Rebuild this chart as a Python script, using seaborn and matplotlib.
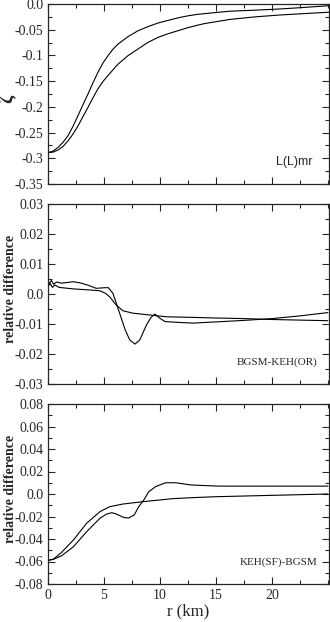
import numpy as np
import pandas as pd
import seaborn as sns
import matplotlib
matplotlib.use("Agg")
import matplotlib.pyplot as plt
from matplotlib.ticker import MultipleLocator, FixedLocator, FixedFormatter

# ---- data ----
# panel 1: zeta(r) for two models
r_top_a = [0, 0.45, 0.89, 1.34, 1.79, 2.23, 2.68, 3.12, 3.57, 4.0, 4.46, 4.9, 5.36, 5.8, 6.25, 7.14, 8.04, 8.93, 9.82, 10.7, 11.6, 12.5, 13.4, 14.8, 16.25, 18.5, 20.7, 23.0, 25.1]
z_top_a = [-0.289, -0.286, -0.279, -0.269, -0.256, -0.238, -0.217, -0.196, -0.175, -0.154, -0.133, -0.115, -0.1005, -0.088, -0.078, -0.0636, -0.052, -0.044, -0.037, -0.032, -0.027, -0.023, -0.020, -0.017, -0.014, -0.012, -0.0097, -0.0065, -0.0033]
r_top_b = [0, 0.45, 0.89, 1.34, 1.79, 2.23, 2.68, 3.12, 3.57, 4.0, 4.46, 4.9, 5.36, 6.25, 7.14, 8.04, 8.93, 9.82, 10.7, 11.6, 12.5, 13.4, 14.0, 16.25, 18.5, 20.7, 23.0, 25.1]
z_top_b = [-0.289, -0.288, -0.284, -0.277, -0.266, -0.253, -0.237, -0.219, -0.201, -0.183, -0.165, -0.151, -0.139, -0.117, -0.1005, -0.0875, -0.0746, -0.065, -0.058, -0.052, -0.046, -0.041, -0.038, -0.030, -0.025, -0.0214, -0.0185, -0.016]

# panel 2: BGSM-KEH(OR)
r_mid_a = [0, 0.2, 0.4, 0.6, 1.0, 2.26, 3.9, 4.6, 5.1, 5.5, 6.1, 6.7, 7.6, 9.1, 10.6, 13.0, 15.0, 17.5, 20.0, 22.5, 25.0]
d_mid_a = [0.0024, 0.0035, 0.0022, 0.0030, 0.0022, 0.0017, 0.0013, 0.0011, 0.0003, -0.0009, -0.0037, -0.0056, -0.0064, -0.0070, -0.0076, -0.0078, -0.0080, -0.0082, -0.0085, -0.0087, -0.0089]
r_mid_b = [0, 0.3, 0.5, 0.8, 1.2, 2.26, 3.0, 3.75, 4.3, 5.1, 5.4, 5.8, 6.3, 6.9, 7.3, 7.77, 8.2, 8.8, 9.2, 9.55, 10.0, 10.45, 11.8, 13.0, 15.0, 17.5, 20.0, 22.5, 25.0]
d_mid_b = [0.0030, 0.0045, 0.0033, 0.0040, 0.0036, 0.0041, 0.0036, 0.0027, 0.0019, 0.0021, 0.0021, 0.0002, -0.0053, -0.0120, -0.0153, -0.0167, -0.0153, -0.0103, -0.0078, -0.0067, -0.0081, -0.0092, -0.0095, -0.0097, -0.0093, -0.0088, -0.0082, -0.0073, -0.0062]

# panel 3: KEH(SF)-BGSM
r_bot_a = [0, 0.47, 1.2, 2.26, 3.45, 4.64, 5.5, 6.7, 8.5, 11.2, 13.0, 15.0, 17.5, 20.0, 22.5, 25.0]
d_bot_a = [-0.059, -0.058, -0.052, -0.041, -0.026, -0.0157, -0.0113, -0.0089, -0.0068, -0.0041, -0.0032, -0.0024, -0.0018, -0.0012, -0.0006, 0.0000]
r_bot_b = [0, 0.5, 1.2, 2.26, 3.45, 4.64, 5.2, 5.7, 6.1, 6.8, 7.2, 7.7, 8.1, 8.6, 9.0, 9.6, 10.5, 11.4, 12.8, 15.2, 20.0, 25.0]
d_bot_b = [-0.059, -0.058, -0.055, -0.047, -0.0335, -0.0216, -0.0180, -0.0166, -0.0178, -0.0210, -0.0213, -0.0187, -0.0113, -0.0047, 0.0020, 0.0065, 0.0100, 0.0100, 0.0080, 0.0070, 0.0070, 0.0070]

top_ticks = [0.0, -0.05, -0.1, -0.15, -0.2, -0.25, -0.3, -0.35]
top_labels = ["0.0", "-0.05", "-0.1", "-0.15", "-0.2", "-0.25", "-0.3", "-0.35"]
mid_ticks = [-0.03, -0.02, -0.01, 0.0, 0.01, 0.02, 0.03]
mid_labels = ["-0.03", "-0.02", "-0.01", "0.0", "0.01", "0.02", "0.03"]
bot_ticks = [-0.08, -0.06, -0.04, -0.02, 0.0, 0.02, 0.04, 0.06, 0.08]
bot_labels = ["-0.08", "-0.06", "-0.04", "-0.02", "0.0", "0.02", "0.04", "0.06", "0.08"]
x_ticks = [0, 5, 10, 15, 20]


def frame(r_a, v_a, r_b, v_b):
    a = pd.DataFrame({"r": r_a, "v": v_a, "curve": "a"})
    b = pd.DataFrame({"r": r_b, "v": v_b, "curve": "b"})
    return pd.concat([a, b], ignore_index=True)


sns.set_style("ticks")
plt.rcParams["font.family"] = ["Liberation Serif", "DejaVu Serif"]
plt.rcParams["xtick.direction"] = "in"
plt.rcParams["ytick.direction"] = "in"

fig = plt.figure(figsize=(3.3, 6.22), dpi=100)
W = 281 / 330
H = 180 / 622
L = 48 / 330
bottoms = [1 - 184 / 622, 1 - 384 / 622, 1 - 584 / 622]

panels = [
    (frame(r_top_a, z_top_a, r_top_b, z_top_b), (-0.35, 0.0), top_ticks, top_labels, 0.025, "L(L)mr"),
    (frame(r_mid_a, d_mid_a, r_mid_b, d_mid_b), (-0.03, 0.03), mid_ticks, mid_labels, 0.005, "BGSM-KEH(OR)"),
    (frame(r_bot_a, d_bot_a, r_bot_b, d_bot_b), (-0.08, 0.08), bot_ticks, bot_labels, 0.01, "KEH(SF)-BGSM"),
]

for i, (df, ylim, yt, yl, ymin, tag) in enumerate(panels):
    ax = fig.add_axes([L, bottoms[i], W, H])
    sns.lineplot(data=df, x="r", y="v", hue="curve", palette=["black", "black"],
                 linewidth=0.8, legend=False, ax=ax, estimator=None, sort=False)
    ax.set_xlim(0, 25.1)
    ax.set_ylim(*ylim)
    ax.xaxis.set_major_locator(FixedLocator(x_ticks))
    ax.xaxis.set_minor_locator(MultipleLocator(2.5))
    ax.yaxis.set_major_locator(FixedLocator(yt))
    ax.yaxis.set_major_formatter(FixedFormatter(yl))
    ax.yaxis.set_minor_locator(MultipleLocator(ymin))
    ax.tick_params(which="both", top=True, right=True, labelsize=10, width=0.8)
    ax.tick_params(which="major", length=5)
    ax.tick_params(which="minor", length=3)
    for s in ax.spines.values():
        s.set_linewidth(0.9)
    ax.set_xlabel("")
    if i < 2:
        ax.tick_params(labelbottom=False)
    else:
        ax.set_xlabel("r (km)", fontsize=12, labelpad=1)
    if i == 0:
        ax.set_ylabel("ζ", fontsize=14, fontweight="bold")
        ax.yaxis.set_label_coords(-0.112, 0.47)
        ax.text(0.94, 0.12, tag, transform=ax.transAxes, ha="right", va="center",
                fontsize=9, family=["Liberation Sans", "DejaVu Sans"])
    else:
        ax.set_ylabel("relative difference", fontsize=10, fontweight="bold")
        ax.yaxis.set_label_coords(-0.11, 0.53)
        ax.text(0.96, 0.12, tag, transform=ax.transAxes, ha="right", va="center",
                fontsize=8)

fig.savefig("out.png", dpi=100)
